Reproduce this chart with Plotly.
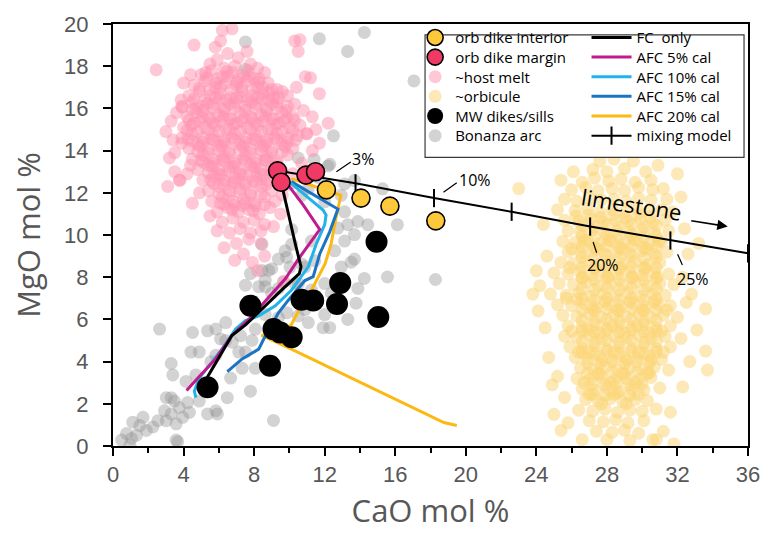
import plotly.graph_objects as go

# ---------------- values (CaO mol %, MgO mol %) ----------------
orb_interior_cao = [12.1, 14.06, 15.7, 18.3]
orb_interior_mgo = [12.14, 11.75, 11.37, 10.67]

orb_margin_cao = [9.33, 9.53, 10.94, 11.48]
orb_margin_mgo = [13.04, 12.5, 12.84, 13.0]

mw_cao = [14.94, 12.88, 12.7, 15.04, 10.69, 11.35, 9.1, 9.48, 10.13, 8.9, 7.79, 5.36]
mw_mgo = [9.68, 7.73, 6.73, 6.11, 6.93, 6.9, 5.54, 5.38, 5.15, 3.8, 6.65, 2.78]

fc_cao = [9.55, 10.0, 10.34, 10.66, 10.56, 9.66, 8.65, 7.53, 6.74, 6.18, 5.73, 5.28]
fc_mgo = [12.44, 10.72, 9.56, 8.49, 8.17, 7.47, 6.64, 5.75, 5.24, 4.45, 3.76, 3.16]

afc5_cao = [9.83, 10.79, 11.72, 10.51, 9.78, 8.54, 7.79, 6.74, 5.83, 4.89, 4.17]
afc5_mgo = [12.48, 11.42, 10.26, 8.86, 7.94, 6.77, 6.08, 5.24, 4.14, 3.29, 2.63]

afc10_cao = [10.04, 11.91, 12.08, 12.0, 11.52, 11.07, 10.11, 9.2, 8.26, 7.51, 6.95, 6.39, 5.62, 4.89, 4.61, 4.7]
afc10_mgo = [12.48, 11.18, 10.95, 10.49, 9.56, 8.49, 7.38, 6.64, 6.17, 5.94, 5.54, 4.84, 3.99, 3.22, 2.6, 2.29]

afc15_cao = [10.11, 12.64, 12.75, 12.29, 11.72, 11.35, 10.88, 9.94, 9.38, 8.54, 8.26, 7.32, 6.48]
afc15_mgo = [12.53, 11.32, 11.23, 10.16, 9.1, 8.03, 7.84, 6.91, 6.31, 5.06, 4.59, 4.13, 3.53]

afc20_cao = [10.11, 12.92, 12.64, 12.36, 12.02, 11.63, 11.07, 10.51, 10.11, 9.66, 8.43, 10.11, 13.88, 18.76, 19.49]
afc20_mgo = [12.67, 11.88, 10.81, 9.56, 8.63, 8.03, 7.1, 6.4, 5.75, 5.48, 5.24, 4.59, 3.06, 1.11, 0.97]

mix_cao = [9.33, 13.75, 18.2, 22.6, 27.05, 31.6, 36.0]
mix_mgo = [13.04, 12.45, 11.75, 11.1, 10.4, 9.74, 9.13]
mix_labels = ["3%", "10%", "20%", "25%"]
mix_label_cao = [14.16, 20.5, 27.8, 32.87]
mix_label_mgo = [13.6, 12.62, 8.58, 7.93]
mix_leader_from = [(12.58, 12.95), (18.65, 11.97), (27.19, 9.74), (31.97, 9.16)]
mix_leader_to = [(13.48, 13.46), (19.49, 12.48), (27.42, 9.16), (32.28, 8.58)]

host_melt_pts = [
    (6.2, 19.7), (6.75, 19.77), (5.8, 18.9), (6.1, 19.2), (10.3, 19.2), (10.6, 19.25), (10.5, 18.7),
    (2.45, 17.83), (4.6, 19.0), (3.86, 16.4), (3.93, 16.05), (3.76, 12.6), (10.96, 14.8),
    (5.5, 18.1), (5.9, 18.3), (6.5, 18.6), (7.1, 18.4), (7.6, 18.7), (6.9, 18.0), (7.8, 18.1), (8.2, 17.9), (6.3, 17.9),
    (5.0, 17.6), (5.6, 17.8), (6.2, 17.5), (6.8, 17.7), (7.4, 17.6), (8.0, 17.4), (8.6, 17.7), (10.9, 17.5), (11.2, 17.45),
    (4.6, 17.1), (5.2, 17.3), (5.8, 17.0), (6.4, 17.2), (7.0, 17.1), (7.6, 17.3), (8.2, 17.0), (8.8, 17.2), (9.3, 16.9),
    (4.3, 16.6), (4.9, 16.8), (5.5, 16.6), (6.1, 16.7), (6.7, 16.5), (7.3, 16.8), (7.9, 16.6), (8.5, 16.7), (9.1, 16.5), (9.6, 16.8), (11.7, 16.7),
    (3.9, 16.1), (4.5, 16.3), (5.1, 16.1), (5.7, 16.2), (6.3, 16.0), (6.9, 16.3), (7.5, 16.1), (8.1, 16.2), (8.7, 16.0), (9.3, 16.3), (9.9, 16.1),
    (4.2, 15.6), (4.8, 15.8), (5.4, 15.6), (6.0, 15.7), (6.6, 15.5), (7.2, 15.8), (7.8, 15.6), (8.4, 15.7), (9.0, 15.5), (9.6, 15.8), (10.2, 15.6),
    (3.3, 15.4), (4.0, 15.1), (4.6, 15.3), (5.2, 15.1), (5.8, 15.2), (6.4, 15.0), (7.0, 15.3), (7.6, 15.1), (8.2, 15.2), (8.8, 15.0), (9.4, 15.3), (10.0, 15.1), (10.6, 15.2), (12.2, 15.3),
    (3.9, 14.6), (4.5, 14.8), (5.1, 14.6), (5.7, 14.7), (6.3, 14.5), (6.9, 14.8), (7.5, 14.6), (8.1, 14.7), (8.7, 14.5), (9.3, 14.8), (9.9, 14.6), (10.5, 14.7), (11.0, 14.8),
    (3.9, 14.35), (4.3, 14.1), (4.8, 14.3), (5.4, 14.1), (6.0, 14.2), (6.6, 14.0), (7.2, 14.3), (7.8, 14.1), (8.4, 14.2), (9.0, 14.0), (9.6, 14.3), (10.2, 14.1), (11.7, 14.35),
    (3.2, 13.65), (3.5, 13.9), (4.5, 13.6), (5.1, 13.8), (5.7, 13.6), (6.3, 13.7), (6.9, 13.5), (7.5, 13.8), (8.1, 13.6), (8.7, 13.7), (9.3, 13.5), (9.9, 13.8),
    (4.8, 13.1), (5.4, 13.3), (6.0, 13.1), (6.6, 13.2), (7.2, 13.0), (7.8, 13.3), (8.4, 13.1), (9.0, 13.2), (9.6, 13.0),
    (3.8, 12.6), (5.1, 12.6), (5.7, 12.8), (6.3, 12.6), (6.9, 12.7), (7.5, 12.5), (8.1, 12.8), (8.7, 12.6), (9.2, 12.7),
    (5.4, 12.1), (6.0, 12.3), (6.6, 12.1), (7.2, 12.2), (7.8, 12.0), (8.4, 12.3), (9.0, 12.1),
    (5.6, 11.6), (6.2, 11.8), (6.8, 11.6), (7.4, 11.7), (8.0, 11.5), (8.6, 11.8), (9.2, 11.6),
    (5.9, 11.1), (6.5, 11.3), (7.1, 11.1), (7.7, 11.2), (8.3, 11.0), (8.9, 11.3),
    (6.2, 10.6), (6.8, 10.8), (7.4, 10.6), (8.0, 10.7), (8.6, 10.5),
    (6.6, 10.1), (7.2, 10.3), (7.8, 10.1), (8.4, 10.2),
    (7.0, 9.6), (7.7, 9.8), (8.4, 9.6), (7.4, 9.1), (8.6, 9.0), (8.2, 8.3), (9.7, 7.8),
    (5.3, 17.45), (5.9, 17.4), (6.5, 17.5), (7.1, 17.4), (7.7, 17.5), (8.3, 17.4),
    (4.9, 16.95), (5.5, 16.9), (6.1, 17.0), (6.7, 16.9), (7.3, 17.0), (7.9, 16.9), (8.5, 17.0), (9.0, 16.9),
    (4.6, 16.45), (5.2, 16.4), (5.8, 16.5), (6.4, 16.4), (7.0, 16.5), (7.6, 16.4), (8.2, 16.5), (8.8, 16.4), (9.4, 16.5),
    (4.5, 15.95), (5.1, 15.9), (5.7, 16.0), (6.3, 15.9), (6.9, 16.0), (7.5, 15.9), (8.1, 16.0), (8.7, 15.9), (9.3, 16.0), (9.8, 15.9),
    (4.3, 15.45), (4.9, 15.4), (5.5, 15.5), (6.1, 15.4), (6.7, 15.5), (7.3, 15.4), (7.9, 15.5), (8.5, 15.4), (9.1, 15.5), (9.7, 15.4), (10.3, 15.45),
    (4.2, 14.95), (4.8, 14.9), (5.4, 15.0), (6.0, 14.9), (6.6, 15.0), (7.2, 14.9), (7.8, 15.0), (8.4, 14.9), (9.0, 15.0), (9.6, 14.9), (10.2, 14.95),
    (4.5, 14.45), (5.1, 14.4), (5.7, 14.5), (6.3, 14.4), (6.9, 14.5), (7.5, 14.4), (8.1, 14.5), (8.7, 14.4), (9.3, 14.5), (9.9, 14.4),
    (4.8, 13.95), (5.4, 13.9), (6.0, 14.0), (6.6, 13.9), (7.2, 14.0), (7.8, 13.9), (8.4, 14.0), (9.0, 13.9), (9.6, 13.95),
    (5.1, 13.45), (5.7, 13.4), (6.3, 13.5), (6.9, 13.4), (7.5, 13.5), (8.1, 13.4), (8.7, 13.5), (9.3, 13.4),
    (5.4, 12.95), (6.0, 12.9), (6.6, 13.0), (7.2, 12.9), (7.8, 13.0), (8.4, 12.9), (9.0, 12.95),
    (5.7, 12.45), (6.3, 12.4), (6.9, 12.5), (7.5, 12.4), (8.1, 12.5), (8.7, 12.4),
    (6.0, 11.95), (6.6, 11.9), (7.2, 12.0), (7.8, 11.9), (8.4, 11.95),
    (6.3, 11.45), (6.9, 11.4), (7.5, 11.5), (8.1, 11.4),
    (4.7, 16.0), (5.35, 16.25), (6.05, 16.45), (6.65, 16.2), (7.25, 16.55), (7.85, 16.3), (8.45, 16.45), (9.05, 16.2),
    (4.45, 15.2), (5.05, 15.55), (5.65, 15.3), (6.25, 15.6), (6.85, 15.25), (7.45, 15.55), (8.05, 15.3), (8.65, 15.6), (9.25, 15.25), (9.85, 15.55),
    (4.25, 14.55), (4.95, 14.2), (5.55, 14.55), (6.15, 14.25), (6.75, 14.6), (7.35, 14.2), (7.95, 14.55), (8.55, 14.25), (9.15, 14.6), (9.75, 14.2), (10.35, 14.5),
    (5.0, 13.55), (5.6, 13.25), (6.2, 13.6), (6.8, 13.25), (7.4, 13.6), (8.0, 13.2), (8.6, 13.55), (9.2, 13.25),
    (5.55, 12.6), (6.15, 12.85), (6.75, 12.45), (7.35, 12.85), (7.95, 12.55), (8.55, 12.85),
    (5.25, 17.7), (5.85, 17.2), (6.45, 17.75), (7.05, 17.25), (7.65, 17.8), (8.25, 17.25), (8.85, 16.75),
    (6.1, 11.5), (6.75, 11.2), (7.35, 11.4), (7.95, 11.15), (8.6, 11.45),
    (3.0, 14.9), (3.4, 14.5), (3.6, 15.8), (3.5, 13.0), (3.1, 12.3), (4.2, 12.9), (4.4, 13.3), (4.0, 17.2), (4.4, 17.6),
    (9.9, 16.6), (10.3, 16.2), (10.4, 17.0), (10.8, 15.9), (11.3, 15.6), (11.5, 15.0), (11.3, 14.0), (10.7, 13.4),
    (10.2, 12.9), (10.0, 12.4), (9.6, 11.9), (9.5, 11.0), (9.1, 10.4), (5.5, 10.9), (5.9, 10.2), (6.3, 9.4),
    (7.9, 8.7), (6.9, 8.8), (4.9, 12.0), (4.5, 11.5),
]

orbicule_pts = [
    (28.4, 13.6), (29.5, 13.5),
    (27.2, 13.1), (28.0, 13.0), (29.0, 13.15), (30.2, 13.0),
    (25.4, 12.6), (26.6, 12.5), (27.3, 12.7), (28.1, 12.55), (28.8, 12.65), (29.6, 12.5), (30.5, 12.6),
    (23.0, 12.2), (26.0, 12.15), (26.8, 12.25), (27.5, 12.1), (28.3, 12.2), (29.0, 12.1), (29.8, 12.25), (30.6, 12.15), (31.2, 12.2),
    (25.6, 11.7), (26.3, 11.6), (27.0, 11.75), (27.7, 11.65), (28.4, 11.7), (29.1, 11.6), (29.8, 11.75), (30.5, 11.65), (31.4, 11.7),
    (25.2, 11.2), (26.2, 11.15), (26.9, 11.25), (27.6, 11.1), (28.3, 11.2), (29.0, 11.1), (29.7, 11.25), (30.4, 11.15), (31.1, 11.2), (31.7, 11.1),
    (25.6, 10.7), (26.4, 10.65), (27.1, 10.75), (27.8, 10.6), (28.5, 10.7), (29.2, 10.65), (29.9, 10.75), (30.6, 10.6), (31.3, 10.7),
    (25.8, 10.2), (26.5, 10.15), (27.2, 10.25), (27.9, 10.1), (28.6, 10.2), (29.3, 10.15), (30.0, 10.25), (30.7, 10.1), (31.5, 10.2),
    (25.5, 9.7), (26.2, 9.65), (26.9, 9.75), (27.6, 9.6), (28.3, 9.7), (29.0, 9.65), (29.7, 9.75), (30.4, 9.6), (31.1, 9.7),
    (25.8, 9.2), (26.5, 9.15), (27.2, 9.25), (27.9, 9.1), (28.6, 9.2), (29.3, 9.15), (30.0, 9.25), (30.7, 9.1), (31.4, 9.2),
    (25.4, 8.7), (26.1, 8.65), (26.8, 8.75), (27.5, 8.6), (28.2, 8.7), (28.9, 8.65), (29.6, 8.75), (30.3, 8.6), (31.0, 8.7),
    (25.0, 8.2), (25.8, 8.15), (26.5, 8.25), (27.2, 8.1), (27.9, 8.2), (28.6, 8.15), (29.3, 8.25), (30.0, 8.1), (30.7, 8.2), (31.5, 8.15),
    (24.2, 7.6), (25.3, 7.7), (26.1, 7.65), (26.8, 7.75), (27.5, 7.6), (28.2, 7.7), (28.9, 7.65), (29.6, 7.75), (30.3, 7.6), (31.0, 7.7), (31.8, 7.65),
    (24.8, 7.2), (25.7, 7.15), (26.4, 7.25), (27.1, 7.1), (27.8, 7.2), (28.5, 7.15), (29.2, 7.25), (29.9, 7.1), (30.6, 7.2), (31.3, 7.15),
    (24.1, 6.4), (25.2, 6.7), (26.0, 6.65), (26.7, 6.75), (27.4, 6.6), (28.1, 6.7), (28.8, 6.65), (29.5, 6.75), (30.2, 6.6), (30.9, 6.7), (31.6, 6.65), (33.6, 6.5),
    (25.5, 6.2), (26.3, 6.15), (27.0, 6.25), (27.7, 6.1), (28.4, 6.2), (29.1, 6.15), (29.8, 6.25), (30.5, 6.1), (31.2, 6.2), (32.0, 6.1),
    (25.8, 5.7), (26.6, 5.65), (27.3, 5.75), (28.0, 5.6), (28.7, 5.7), (29.4, 5.65), (30.1, 5.75), (30.8, 5.6), (31.6, 5.7),
    (25.6, 5.2), (26.3, 5.15), (27.0, 5.25), (27.7, 5.1), (28.4, 5.2), (29.1, 5.15), (29.8, 5.25), (30.5, 5.1), (31.3, 5.2), (32.2, 5.1),
    (25.9, 4.7), (26.6, 4.65), (27.3, 4.75), (28.0, 4.6), (28.7, 4.7), (29.4, 4.65), (30.1, 4.75), (30.8, 4.6), (31.6, 4.7), (33.6, 4.5),
    (26.2, 4.2), (26.9, 4.15), (27.6, 4.25), (28.3, 4.1), (29.0, 4.2), (29.7, 4.15), (30.4, 4.25), (31.1, 4.1),
    (26.5, 3.7), (27.2, 3.65), (27.9, 3.75), (28.6, 3.6), (29.3, 3.7), (30.0, 3.65), (30.7, 3.75), (31.5, 3.6), (33.7, 3.6),
    (26.3, 3.2), (27.0, 3.15), (27.7, 3.25), (28.4, 3.1), (29.1, 3.2), (29.8, 3.15), (30.5, 3.25),
    (24.9, 2.9), (26.6, 2.7), (27.3, 2.65), (28.0, 2.75), (28.7, 2.6), (29.4, 2.7), (30.1, 2.65), (31.0, 2.75),
    (26.8, 2.2), (27.5, 2.15), (28.2, 2.25), (28.9, 2.1), (29.6, 2.2), (30.3, 2.15),
    (26.4, 1.7), (27.2, 1.65), (27.9, 1.75), (28.6, 1.6), (29.3, 1.7), (30.0, 1.65), (30.8, 1.75),
    (25.0, 1.5), (27.0, 1.2), (27.8, 1.15), (28.5, 1.25), (29.2, 1.1), (30.1, 1.2),
    (25.4, 0.74), (27.4, 0.7), (28.3, 0.65), (29.0, 0.75), (29.8, 0.6), (31.2, 0.7),
    (28.0, 0.3), (29.3, 0.25), (30.6, 0.3), (31.8, 0.1),
    (26.6, 10.45), (27.3, 10.4), (28.0, 10.5), (28.7, 10.4), (29.4, 10.5), (30.1, 10.4), (30.8, 10.45),
    (26.6, 9.95), (27.3, 9.9), (28.0, 10.0), (28.7, 9.9), (29.4, 10.0), (30.1, 9.9), (30.8, 9.95),
    (26.6, 9.45), (27.3, 9.4), (28.0, 9.5), (28.7, 9.4), (29.4, 9.5), (30.1, 9.4), (30.8, 9.45),
    (26.6, 8.95), (27.3, 8.9), (28.0, 9.0), (28.7, 8.9), (29.4, 9.0), (30.1, 8.9), (30.8, 8.95),
    (26.6, 8.45), (27.3, 8.4), (28.0, 8.5), (28.7, 8.4), (29.4, 8.5), (30.1, 8.4), (30.8, 8.45),
    (26.6, 7.95), (27.3, 7.9), (28.0, 8.0), (28.7, 7.9), (29.4, 8.0), (30.1, 7.9), (30.8, 7.95),
    (26.6, 7.45), (27.3, 7.4), (28.0, 7.5), (28.7, 7.4), (29.4, 7.5), (30.1, 7.4), (30.8, 7.45),
    (26.6, 6.95), (27.3, 6.9), (28.0, 7.0), (28.7, 6.9), (29.4, 7.0), (30.1, 6.9), (30.8, 6.95),
    (26.6, 6.45), (27.3, 6.4), (28.0, 6.5), (28.7, 6.4), (29.4, 6.5), (30.1, 6.4), (30.8, 6.45),
    (26.6, 5.95), (27.3, 5.9), (28.0, 6.0), (28.7, 5.9), (29.4, 6.0), (30.1, 5.9), (30.8, 5.95),
    (26.6, 5.45), (27.3, 5.4), (28.0, 5.5), (28.7, 5.4), (29.4, 5.5), (30.1, 5.4), (30.8, 5.45),
    (26.6, 4.95), (27.3, 4.9), (28.0, 5.0), (28.7, 4.9), (29.4, 5.0), (30.1, 4.9), (30.8, 4.95),
    (26.6, 4.45), (27.3, 4.4), (28.0, 4.5), (28.7, 4.4), (29.4, 4.5), (30.1, 4.4), (30.8, 4.45),
    (26.9, 3.95), (27.6, 3.9), (28.3, 4.0), (29.0, 3.9), (29.7, 4.0), (30.4, 3.95),
    (26.9, 3.45), (27.6, 3.4), (28.3, 3.5), (29.0, 3.4), (29.7, 3.5), (30.4, 3.45),
    (27.2, 2.95), (27.9, 2.9), (28.6, 3.0), (29.3, 2.9), (30.0, 2.95),
    (27.2, 2.45), (27.9, 2.4), (28.6, 2.5), (29.3, 2.4),
    (26.25, 10.9), (26.95, 10.95), (27.65, 10.85), (28.35, 10.95), (29.05, 10.85), (29.75, 10.95), (30.45, 10.85),
    (26.0, 9.35), (26.7, 9.7), (27.45, 9.35), (28.15, 9.75), (28.85, 9.35), (29.55, 9.75), (30.25, 9.35), (30.95, 9.7),
    (25.9, 8.45), (26.6, 8.0), (27.35, 8.45), (28.05, 8.0), (28.75, 8.45), (29.45, 8.0), (30.15, 8.45), (30.85, 8.0),
    (25.7, 7.0), (26.3, 6.95), (27.2, 6.5), (27.9, 6.85), (28.6, 6.45), (29.3, 6.85), (30.0, 6.45), (30.7, 6.85), (31.4, 6.45),
    (26.0, 5.45), (26.9, 5.5), (27.6, 5.35), (28.3, 5.7), (29.0, 5.35), (29.7, 5.7), (30.4, 5.35), (31.1, 5.45),
    (26.4, 4.45), (27.0, 4.45), (27.7, 4.05), (28.4, 4.45), (29.1, 4.05), (29.8, 4.45), (30.5, 4.05), (31.2, 4.45),
    (26.7, 3.0), (27.5, 3.45), (28.2, 3.0), (28.9, 3.45), (29.6, 3.0), (30.3, 3.45),
    (27.0, 2.45), (27.7, 2.0), (28.4, 2.45), (29.1, 2.0), (29.8, 2.45),
    (24.4, 10.5), (24.6, 9.0), (24.0, 8.3), (23.8, 7.2), (24.5, 5.6), (24.7, 4.2), (25.2, 3.3), (25.6, 2.3),
    (25.8, 1.1), (32.2, 11.8), (32.4, 10.3), (32.6, 9.1), (32.3, 8.0), (32.8, 7.2), (32.5, 6.8), (33.1, 5.5),
    (32.7, 4.0), (32.3, 2.8), (31.6, 1.6), (30.8, 0.3), (26.6, 0.3), (27.6, 13.5), (30.9, 13.3), (26.1, 13.0),
    (32.0, 12.9), (33.2, 9.6),
]

bonanza_pts = [
    (0.49, 0.28), (1.05, 0.36), (1.12, 1.13), (1.7, 1.36), (1.52, 0.97), (2.26, 0.9), (2.55, 1.2), (2.92, 1.67),
    (3.3, 1.52), (3.48, 2.13), (3.76, 1.82), (4.23, 2.06), (3.3, 2.29), (3.02, 2.29), (3.67, 0.2), (0.96, 0.05),
    (2.64, 5.54), (3.3, 3.91), (3.39, 3.37), (4.51, 5.38), (4.42, 4.45), (4.89, 4.45), (5.36, 5.46), (5.83, 5.54),
    (6.39, 5.85), (5.55, 3.99), (4.7, 3.37), (5.07, 2.75), (5.36, 1.52), (5.92, 1.52), (6.48, 2.29), (7.79, 2.6),
    (9.1, 1.21), (6.1, 5.07), (6.76, 4.92), (7.13, 4.45), (6.67, 3.22), (7.32, 3.68), (8.07, 3.68), (7.51, 4.45),
    (7.88, 5.0), (8.07, 5.54), (7.51, 7.62), (7.79, 8.17), (8.44, 8.32), (9.0, 8.4), (8.63, 7.55), (9.0, 7.24),
    (9.38, 7.47), (9.66, 7.78), (9.85, 8.94), (10.04, 8.48), (8.63, 6.23), (9.38, 6.08), (9.85, 6.31), (10.5, 6.16),
    (11.07, 5.85), (10.32, 7.7), (10.79, 7.0), (11.25, 7.39), (10.88, 8.48), (11.44, 8.78), (7.23, 5.23), (6.39, 5.0),
    (5.83, 4.3), (4.14, 3.06), (4.89, 2.13), (5.83, 1.67), (4.33, 1.59), (3.95, 1.36), (3.58, 1.05), (3.02, 1.2),
    (1.89, 0.74), (1.33, 0.51), (0.77, 0.59), (3.58, 0.28),
    (12.19, 13.27), (13.13, 12.42), (13.69, 12.58), (15.28, 12.19), (16.12, 10.49), (14.44, 10.49), (13.88, 10.64),
    (13.13, 11.1), (13.31, 10.49), (12.75, 10.33), (13.69, 10.02), (12.57, 9.25), (13.5, 8.71), (13.69, 8.86),
    (12.94, 8.48), (14.25, 7.94), (15.56, 8.01), (18.28, 7.89), (13.88, 7.47), (12.0, 6.23), (13.31, 6.0),
    (12.29, 5.61), (11.91, 5.61), (10.69, 8.63), (10.13, 9.56), (10.13, 10.26), (9.76, 9.25), (9.38, 8.86),
    (8.82, 8.32), (8.63, 7.86), (8.26, 7.55), (8.44, 9.56), (10.69, 11.88), (11.07, 12.19), (12.94, 11.88),
    (12.0, 11.57), (11.63, 12.73), (11.25, 9.71), (13.13, 9.71), (12.0, 7.7), (12.38, 7.24), (13.78, 6.77),
    (10.51, 7.7), (10.88, 6.46),
    (7.51, 19.15), (11.7, 19.3), (14.25, 19.6), (13.3, 18.7), (17.06, 17.3), (12.5, 14.7), (7.5, 17.85),
    (10.5, 13.65), (11.4, 13.58), (12.29, 13.35),
]

x_ticks = [0, 4, 8, 12, 16, 20, 24, 28, 32, 36]
y_ticks = [0, 2, 4, 6, 8, 10, 12, 14, 16, 18, 20]

# ---------------- styling ----------------
TXT = "Open Sans"
NUM = "Liberation Sans"
GREY_TXT = "#575757"

PLOT_L, PLOT_R, PLOT_T, PLOT_B = 113, 754, 16, 446
W, H = 772, 541


def px_to_paper(xpx, ypx):
    return (xpx - PLOT_L) / (PLOT_R - PLOT_L), (PLOT_B - ypx) / (PLOT_B - PLOT_T)


fig = go.Figure()


def cloud(pts, name, color, legend, rank):
    fig.add_trace(go.Scatter(
        x=[p[0] for p in pts], y=[p[1] for p in pts], mode="markers", name=name,
        marker=dict(size=13, color=color, line=dict(width=0)),
        legend=legend, legendrank=rank, hoverinfo="skip"))


cloud(bonanza_pts, "Bonanza arc", "rgba(150,150,150,0.42)", "legend6", 6)
cloud(host_melt_pts, "~host melt", "rgba(255,146,175,0.5)", "legend3", 3)
cloud(orbicule_pts, "~orbicule", "rgba(251,212,112,0.5)", "legend4", 4)


def model(xs, ys, name, color, legend, rank):
    fig.add_trace(go.Scatter(
        x=xs, y=ys, mode="lines", name=name, line=dict(color=color, width=3),
        legend=legend, legendrank=rank, hoverinfo="skip"))


model(afc20_cao, afc20_mgo, "AFC 20% cal", "#FDB913", "legend11", 11)
model(afc15_cao, afc15_mgo, "AFC 15% cal", "#1B74C2", "legend10", 10)
model(afc10_cao, afc10_mgo, "AFC 10% cal", "#22B3EA", "legend9", 9)
model(afc5_cao, afc5_mgo, "AFC 5% cal", "#C2198E", "legend8", 8)
model(fc_cao, fc_mgo, "FC  only", "#000000", "legend7", 7)

fig.add_trace(go.Scatter(
    x=mix_cao, y=mix_mgo, mode="lines+markers", name="mixing model",
    line=dict(color="black", width=2),
    marker=dict(symbol="line-ns", size=13, color="black", line=dict(width=2, color="black")),
    legend="legend12", legendrank=12, cliponaxis=False, hoverinfo="skip"))

fig.add_trace(go.Scatter(
    x=mw_cao, y=mw_mgo, mode="markers", name="MW dikes/sills",
    marker=dict(size=22, color="black"), legend="legend5", legendrank=5, hoverinfo="skip"))
fig.add_trace(go.Scatter(
    x=orb_margin_cao, y=orb_margin_mgo, mode="markers", name="orb dike margin",
    marker=dict(size=18, color="#EF3A66", line=dict(width=1.6, color="black")),
    legend="legend2", legendrank=2, hoverinfo="skip"))
fig.add_trace(go.Scatter(
    x=orb_interior_cao, y=orb_interior_mgo, mode="markers", name="orb dike interior",
    marker=dict(size=18, color="#FDC83A", line=dict(width=1.6, color="black")),
    legend="legend", legendrank=1, hoverinfo="skip"))

# ---------------- legends: two columns inside one framed box ----------------
row_py = [30, 50, 70, 90, 110, 130]
legend_layout = {}
left_names = ["legend", "legend2", "legend3", "legend4", "legend5", "legend6"]
right_names = ["legend7", "legend8", "legend9", "legend10", "legend11", "legend12"]
for names, xpx, iw in ((left_names, 418, 30), (right_names, 591, 40)):
    for nm, ypx in zip(names, row_py):
        lx, ly = px_to_paper(xpx, ypx)
        legend_layout[nm] = dict(
            x=lx, y=ly, xanchor="left", yanchor="middle", bgcolor="rgba(0,0,0,0)",
            borderwidth=0, itemwidth=iw, font=dict(family=TXT, size=15, color="black"),
            itemclick=False, itemdoubleclick=False)

bx0, by0 = px_to_paper(428, 152)
bx1, by1 = px_to_paper(750, 27)
shapes = [dict(type="rect", xref="paper", yref="paper", x0=bx0, x1=bx1, y0=by0, y1=by1,
               line=dict(color="#3a3a3a", width=1.2), fillcolor="white", layer="above")]

# ---------------- annotations ----------------
annotations = []
for (fx, fy), (tx, ty) in zip(mix_leader_from, mix_leader_to):
    annotations.append(dict(x=tx, y=ty, ax=fx, ay=fy, xref="x", yref="y", axref="x", ayref="y",
                            text="", showarrow=True, arrowhead=0, arrowwidth=1.2, arrowcolor="black"))
for t, lx, ly in zip(mix_labels, mix_label_cao, mix_label_mgo):
    annotations.append(dict(x=lx, y=ly, xref="x", yref="y", text=t, showarrow=False,
                            font=dict(family=TXT, size=16, color="black")))
annotations.append(dict(x=29.4, y=11.45, xref="x", yref="y", text="limestone", showarrow=False,
                        textangle=9, font=dict(family=TXT, size=22, color="black")))
annotations.append(dict(x=34.85, y=10.4, ax=32.7, ay=10.69, xref="x", yref="y", axref="x", ayref="y",
                        text="", showarrow=True, arrowhead=2, arrowsize=1.3, arrowwidth=1.6,
                        arrowcolor="black"))

fig.update_layout(
    width=W, height=H,
    margin=dict(l=PLOT_L, r=W - PLOT_R, t=PLOT_T, b=H - PLOT_B),
    paper_bgcolor="white", plot_bgcolor="white",
    showlegend=True, shapes=shapes, annotations=annotations,
    hovermode=False,
    **legend_layout,
)
fig.update_xaxes(
    range=[0, 36], tickvals=x_ticks, ticks="outside", ticklen=8, tickwidth=2, tickcolor="black",
    showline=True, linewidth=2, linecolor="black", mirror=True, showgrid=False, zeroline=False,
    tickfont=dict(family=NUM, size=22, color=GREY_TXT),
    minor=dict(dtick=2, ticks="outside", ticklen=5, tickwidth=2, tickcolor="black", showgrid=False),
    title=dict(text="CaO mol %", font=dict(family=TXT, size=31, color=GREY_TXT), standoff=14),
)
fig.update_yaxes(
    range=[0, 20], tickvals=y_ticks, ticks="outside", ticklen=8, tickwidth=2, tickcolor="black",
    showline=True, linewidth=2, linecolor="black", mirror=True, showgrid=False, zeroline=False,
    tickfont=dict(family=NUM, size=22, color=GREY_TXT), ticklabelstandoff=10,
    title=dict(text="MgO mol %", font=dict(family=TXT, size=31, color=GREY_TXT), standoff=14),
)

fig.write_html("out.html")
